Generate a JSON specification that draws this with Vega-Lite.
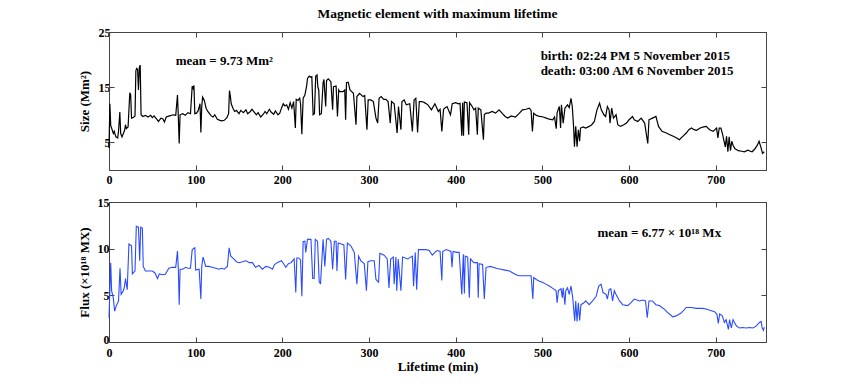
{
  "$schema": "https://vega.github.io/schema/vega-lite/v6.json",
  "background": "white",
  "padding": {"left": 77, "top": 6, "right": 5, "bottom": 5},
  "spacing": 9,
  "config": {
    "view": {"stroke": "#444", "strokeWidth": 1},
    "axis": {
      "labelFont": "Liberation Serif", "labelFontWeight": "bold", "labelFontSize": 12, "labelColor": "black",
      "titleFont": "Liberation Serif", "titleFontWeight": "bold", "titleFontSize": 13, "titleColor": "black",
      "grid": false, "tickSize": -5, "tickColor": "#444", "domainColor": "#444"
    },
    "axisX": {"labelPadding": 9},
    "axisY": {"labelPadding": 4},
    "text": {"font": "Liberation Serif", "fontWeight": "bold", "fontSize": 13, "color": "black"}
  },
  "datasets": {
    "size": [
      {"t":0,"v":4},{"t":1,"v":12},{"t":2,"v":8},{"t":3,"v":7.6},{"t":5,"v":6.6},{"t":6,"v":7},{"t":8,"v":6},{"t":10,"v":5.8},{"t":11,"v":7},{"t":12.5,"v":10.5},{"t":13.5,"v":6.6},{"t":15,"v":6},{"t":17,"v":6.8},{"t":18,"v":7.2},{"t":19,"v":8.2},{"t":20,"v":7.5},{"t":22,"v":7.8},{"t":24,"v":14},{"t":25,"v":13.6},{"t":26,"v":9.4},{"t":28,"v":9.5},{"t":30,"v":9.8},{"t":31,"v":18},{"t":32,"v":18.4},{"t":33,"v":18.2},{"t":34,"v":14.5},{"t":35,"v":18.6},{"t":36,"v":19},{"t":37,"v":10},{"t":39,"v":9.7},{"t":42,"v":9.9},{"t":45,"v":9.6},{"t":48,"v":9.9},{"t":50,"v":9.5},{"t":52,"v":9.8},{"t":55,"v":9.2},{"t":57,"v":8.8},{"t":60,"v":9.4},{"t":62,"v":9.3},{"t":64,"v":8.7},{"t":66,"v":9.6},{"t":70,"v":9.8},{"t":74,"v":10},{"t":77,"v":9.9},{"t":79,"v":13.6},{"t":80,"v":9.5},{"t":81,"v":4.8},{"t":82,"v":10},{"t":85,"v":10.2},{"t":88,"v":9.9},{"t":91,"v":10.4},{"t":94,"v":10.2},{"t":96,"v":15.2},{"t":97,"v":14.8},{"t":98,"v":15.3},{"t":99,"v":10.2},{"t":101,"v":10.3},{"t":103,"v":10.8},{"t":105,"v":12},{"t":106,"v":6.8},{"t":107,"v":11.5},{"t":108,"v":13.2},{"t":110,"v":12.6},{"t":112,"v":11.2},{"t":114,"v":10.6},{"t":116,"v":10.2},{"t":118,"v":9.8},{"t":120,"v":9.6},{"t":122,"v":10},{"t":125,"v":9.2},{"t":128,"v":9},{"t":130,"v":8.9},{"t":133,"v":9},{"t":136,"v":9.5},{"t":138,"v":10.2},{"t":139,"v":14.4},{"t":140,"v":13.4},{"t":141,"v":12},{"t":143,"v":11.2},{"t":145,"v":10.6},{"t":147,"v":10.8},{"t":150,"v":10.2},{"t":152,"v":10.8},{"t":155,"v":10.4},{"t":158,"v":10.9},{"t":160,"v":10.2},{"t":163,"v":10.6},{"t":165,"v":11},{"t":168,"v":10.4},{"t":170,"v":10},{"t":172,"v":10.4},{"t":175,"v":9.6},{"t":178,"v":10.1},{"t":180,"v":10.6},{"t":182,"v":10.2},{"t":185,"v":11},{"t":187,"v":10.5},{"t":190,"v":10.1},{"t":192,"v":10.7},{"t":195,"v":10},{"t":197,"v":10.3},{"t":199,"v":11.2},{"t":201,"v":12},{"t":203,"v":11.6},{"t":205,"v":11.8},{"t":207,"v":11},{"t":209,"v":12.2},{"t":211,"v":11.2},{"t":213,"v":12.4},{"t":215,"v":7.6},{"t":216,"v":12.8},{"t":218,"v":12.6},{"t":220,"v":13},{"t":221,"v":12},{"t":222.5,"v":6.5},{"t":224,"v":13},{"t":226,"v":13.6},{"t":228,"v":15.2},{"t":229,"v":16.6},{"t":231,"v":17},{"t":233,"v":16.8},{"t":234,"v":16.9},{"t":235.5,"v":10},{"t":237,"v":10.2},{"t":238.5,"v":17},{"t":240,"v":17.2},{"t":241,"v":15},{"t":242,"v":14.5},{"t":243,"v":10},{"t":245,"v":10.2},{"t":247,"v":15.8},{"t":248,"v":16.4},{"t":250,"v":11.5},{"t":251,"v":16.2},{"t":253,"v":16.5},{"t":256,"v":16},{"t":258,"v":10.9},{"t":259,"v":15.1},{"t":262,"v":15.2},{"t":263.6,"v":9.7},{"t":265,"v":14.5},{"t":266,"v":14.2},{"t":270,"v":14.2},{"t":272,"v":14.5},{"t":273,"v":9.1},{"t":274,"v":15.8},{"t":276,"v":15.9},{"t":278,"v":14.5},{"t":280,"v":14.2},{"t":282,"v":13.9},{"t":285,"v":8.2},{"t":286,"v":13.3},{"t":289,"v":13.9},{"t":291,"v":13.6},{"t":293,"v":13.3},{"t":295,"v":13.5},{"t":297.6,"v":7.3},{"t":299,"v":12.7},{"t":302,"v":12.7},{"t":305,"v":12.4},{"t":308,"v":9.4},{"t":310,"v":8.5},{"t":311.6,"v":13},{"t":314,"v":13.3},{"t":317,"v":12.8},{"t":319.5,"v":12.8},{"t":322,"v":12.4},{"t":324.5,"v":8.5},{"t":326,"v":12.4},{"t":329,"v":12},{"t":332.4,"v":6.7},{"t":334,"v":11.5},{"t":336.8,"v":7.3},{"t":338,"v":12.4},{"t":340.6,"v":12.7},{"t":343,"v":11.8},{"t":347,"v":12},{"t":350,"v":7},{"t":352,"v":12.7},{"t":354,"v":13},{"t":356,"v":6.8},{"t":358,"v":12.4},{"t":361,"v":12.4},{"t":364,"v":12.2},{"t":368,"v":11.8},{"t":372,"v":10.9},{"t":376,"v":12},{"t":380,"v":10.6},{"t":382,"v":11},{"t":384,"v":7},{"t":386,"v":11},{"t":388,"v":11.3},{"t":390,"v":11.5},{"t":394,"v":10},{"t":396,"v":12},{"t":400,"v":12.2},{"t":403,"v":12},{"t":405,"v":12.1},{"t":407,"v":6.2},{"t":408,"v":12.2},{"t":409,"v":6.2},{"t":410,"v":12.3},{"t":413,"v":12.2},{"t":415,"v":6.4},{"t":416,"v":12.2},{"t":419,"v":11.5},{"t":421,"v":10.9},{"t":423,"v":11.2},{"t":425,"v":6.4},{"t":426,"v":11.2},{"t":429,"v":10.9},{"t":432,"v":5.5},{"t":433,"v":10},{"t":435,"v":10.3},{"t":438,"v":10.3},{"t":442,"v":10.6},{"t":446,"v":10.3},{"t":450,"v":10.9},{"t":454,"v":10.2},{"t":457,"v":9.7},{"t":460,"v":9.4},{"t":464,"v":9.8},{"t":469,"v":9.6},{"t":473,"v":10.2},{"t":477,"v":10.9},{"t":481,"v":11},{"t":485,"v":11.2},{"t":487,"v":10.8},{"t":488.5,"v":7},{"t":490,"v":10.3},{"t":493,"v":9.9},{"t":497,"v":9.7},{"t":501,"v":9.6},{"t":504.5,"v":9.4},{"t":508,"v":9.2},{"t":512,"v":9.1},{"t":514,"v":9.6},{"t":516,"v":7.5},{"t":517,"v":10.4},{"t":519.6,"v":11.5},{"t":521,"v":7.6},{"t":522,"v":11.8},{"t":524,"v":8.5},{"t":526,"v":11.2},{"t":529,"v":11.8},{"t":531,"v":11.3},{"t":533,"v":13},{"t":534.5,"v":11.5},{"t":536,"v":7.9},{"t":537,"v":4.2},{"t":538.5,"v":7.9},{"t":540,"v":4.2},{"t":541.5,"v":7.3},{"t":543,"v":5.2},{"t":544,"v":7.6},{"t":547,"v":7.8},{"t":550,"v":7.6},{"t":554,"v":7.9},{"t":557,"v":8.2},{"t":560,"v":8.8},{"t":563,"v":10.9},{"t":566,"v":12.1},{"t":568,"v":10.9},{"t":571,"v":10},{"t":573,"v":9.7},{"t":575,"v":11.5},{"t":577,"v":10.9},{"t":578,"v":8.5},{"t":580,"v":11.2},{"t":582,"v":9.4},{"t":585,"v":10},{"t":587,"v":8.2},{"t":590,"v":7.9},{"t":594,"v":8.2},{"t":597,"v":8.5},{"t":600,"v":9.1},{"t":604,"v":9.7},{"t":606,"v":9.1},{"t":610,"v":8.8},{"t":614,"v":9.4},{"t":618,"v":8.5},{"t":621.6,"v":4.8},{"t":623,"v":9.1},{"t":627,"v":9.4},{"t":631,"v":9.7},{"t":634,"v":7.9},{"t":638,"v":7},{"t":643,"v":6.7},{"t":647,"v":6.4},{"t":651,"v":6.1},{"t":655,"v":5.8},{"t":658,"v":5.5},{"t":662,"v":6.1},{"t":666,"v":6.7},{"t":669,"v":7.3},{"t":672,"v":7.6},{"t":675,"v":7.3},{"t":678,"v":7.2},{"t":682,"v":7.6},{"t":686,"v":7.8},{"t":689,"v":7.9},{"t":693,"v":7.3},{"t":697,"v":7},{"t":701,"v":7.6},{"t":702.5,"v":5.8},{"t":704,"v":7.6},{"t":706,"v":7.6},{"t":708,"v":6.4},{"t":711,"v":4.2},{"t":712.5,"v":6.1},{"t":714,"v":3.3},{"t":715.5,"v":6},{"t":717,"v":3.5},{"t":718.5,"v":5.2},{"t":720,"v":4.5},{"t":722,"v":3.9},{"t":726,"v":3.5},{"t":730,"v":3.4},{"t":733,"v":3.3},{"t":737,"v":3.6},{"t":740,"v":3.4},{"t":742,"v":3.3},{"t":745,"v":3.8},{"t":748,"v":4.5},{"t":750,"v":5.2},{"t":752,"v":4.2},{"t":754,"v":3},{"t":756,"v":3.3}
    ],
    "flux": [
      {"t":0,"v":2.6},{"t":2,"v":8.5},{"t":3,"v":5.5},{"t":5,"v":4.7},{"t":6.5,"v":3.3},{"t":8.5,"v":3.9},{"t":11,"v":4.4},{"t":12.7,"v":7.9},{"t":14,"v":5.1},{"t":16.5,"v":5.5},{"t":18,"v":6},{"t":19,"v":6.8},{"t":21,"v":5.6},{"t":23,"v":10.5},{"t":26,"v":10.3},{"t":27,"v":7.3},{"t":30,"v":7.6},{"t":31.5,"v":12.4},{"t":34,"v":12.3},{"t":35.4,"v":8.7},{"t":36.6,"v":12.3},{"t":38.5,"v":12.2},{"t":39.5,"v":8.1},{"t":42,"v":7.6},{"t":46,"v":7.6},{"t":50,"v":7.6},{"t":53,"v":7.4},{"t":56,"v":6.8},{"t":58,"v":7.3},{"t":62,"v":7.2},{"t":65,"v":7.25},{"t":69,"v":7.9},{"t":73,"v":8},{"t":77,"v":8},{"t":79,"v":9.75},{"t":80,"v":7.8},{"t":81,"v":4},{"t":82,"v":7.8},{"t":85,"v":7.8},{"t":88.5,"v":8},{"t":91,"v":7.9},{"t":94,"v":7.9},{"t":96,"v":9.9},{"t":99,"v":10.1},{"t":100,"v":7.7},{"t":104,"v":7.8},{"t":106,"v":4.6},{"t":107,"v":8.1},{"t":108.5,"v":9.1},{"t":111.6,"v":8.1},{"t":115,"v":8.1},{"t":119,"v":8},{"t":123,"v":7.9},{"t":127,"v":7.8},{"t":130,"v":7.9},{"t":133,"v":7.8},{"t":136.6,"v":8.1},{"t":138.6,"v":10.1},{"t":140.5,"v":9.2},{"t":144,"v":8.9},{"t":147,"v":8.6},{"t":150,"v":8.5},{"t":154,"v":8.6},{"t":158,"v":8.7},{"t":162,"v":8.5},{"t":165.5,"v":8.5},{"t":169,"v":8},{"t":173,"v":8.2},{"t":177,"v":7.8},{"t":181,"v":8.1},{"t":185,"v":8},{"t":188.6,"v":7.8},{"t":191,"v":8.3},{"t":194,"v":8.5},{"t":199,"v":8.7},{"t":202,"v":8.3},{"t":204,"v":8},{"t":207,"v":8.4},{"t":210,"v":8.5},{"t":213.6,"v":8.9},{"t":215.5,"v":5.3},{"t":216.7,"v":9},{"t":219,"v":9},{"t":221,"v":8.8},{"t":222.5,"v":4.9},{"t":224,"v":10.75},{"t":226,"v":10.8},{"t":227,"v":9.6},{"t":229,"v":11},{"t":233,"v":11},{"t":235,"v":6.8},{"t":236.7,"v":6.8},{"t":238,"v":11},{"t":240.6,"v":10.8},{"t":242.5,"v":6.5},{"t":244,"v":6.2},{"t":247,"v":11},{"t":249,"v":8.1},{"t":251,"v":11},{"t":253,"v":11.1},{"t":256,"v":10.8},{"t":258,"v":7.8},{"t":260,"v":10.8},{"t":262,"v":10.8},{"t":263,"v":7.6},{"t":264.4,"v":10.6},{"t":268,"v":10.5},{"t":271,"v":10.4},{"t":273,"v":6.7},{"t":275,"v":10.6},{"t":279,"v":10.3},{"t":283,"v":9.6},{"t":286,"v":6.2},{"t":288,"v":9.2},{"t":290.6,"v":8.7},{"t":294.5,"v":8.4},{"t":297,"v":5.5},{"t":298.7,"v":8.6},{"t":302,"v":8.7},{"t":306,"v":8.7},{"t":308,"v":6.7},{"t":311,"v":6.4},{"t":312.5,"v":9.5},{"t":317.5,"v":9.3},{"t":321,"v":8.9},{"t":323,"v":5.8},{"t":325,"v":8.9},{"t":328,"v":9.1},{"t":329,"v":6.2},{"t":331,"v":9.1},{"t":332,"v":5.5},{"t":333.7,"v":8.9},{"t":336.8,"v":5.5},{"t":338.7,"v":9.1},{"t":344.5,"v":8.9},{"t":350,"v":9.2},{"t":351.4,"v":6},{"t":353.3,"v":9.6},{"t":355,"v":5.6},{"t":357,"v":9.9},{"t":362,"v":9.9},{"t":366,"v":9.9},{"t":369.5,"v":9.8},{"t":373,"v":9.3},{"t":377,"v":9.7},{"t":379,"v":9.8},{"t":382,"v":9.7},{"t":384,"v":6.6},{"t":385,"v":9.7},{"t":389,"v":9.9},{"t":392,"v":9.8},{"t":394.6,"v":9.7},{"t":395.7,"v":8},{"t":397,"v":9.7},{"t":401,"v":9.6},{"t":404,"v":9.6},{"t":407,"v":5.1},{"t":408.8,"v":9.4},{"t":410,"v":5.2},{"t":411,"v":9.2},{"t":413.8,"v":9.1},{"t":415.7,"v":4.75},{"t":417,"v":8.9},{"t":421,"v":8.5},{"t":425,"v":8.5},{"t":426,"v":4.75},{"t":427,"v":8.4},{"t":431,"v":8.3},{"t":433,"v":4.6},{"t":435,"v":8},{"t":440,"v":8.1},{"t":446.5,"v":7.9},{"t":452,"v":7.8},{"t":457,"v":7.7},{"t":462,"v":7.6},{"t":466,"v":7.4},{"t":469.6,"v":7.2},{"t":473,"v":7.1},{"t":480,"v":7.1},{"t":487,"v":7.1},{"t":489,"v":4.6},{"t":490,"v":6.9},{"t":493,"v":6.7},{"t":496.5,"v":6.5},{"t":500,"v":6.4},{"t":504,"v":6.2},{"t":508,"v":6},{"t":512,"v":5.75},{"t":515.8,"v":5.5},{"t":517,"v":4.2},{"t":518.5,"v":5.5},{"t":521.5,"v":5.7},{"t":523,"v":4.75},{"t":524,"v":5.8},{"t":526,"v":4},{"t":527,"v":5.5},{"t":529,"v":5.8},{"t":531,"v":5.1},{"t":533,"v":6},{"t":535,"v":4.75},{"t":537.3,"v":2.25},{"t":538.5,"v":4.4},{"t":540,"v":2.2},{"t":541.5,"v":4.2},{"t":543,"v":2.3},{"t":544.5,"v":4},{"t":548,"v":4.2},{"t":550,"v":4.4},{"t":554,"v":4},{"t":558,"v":4.4},{"t":562,"v":4.9},{"t":565,"v":6},{"t":567.7,"v":6.2},{"t":570,"v":5.3},{"t":573.5,"v":5.1},{"t":575,"v":4.6},{"t":577,"v":5.6},{"t":579,"v":5.7},{"t":581,"v":4.4},{"t":583,"v":5.5},{"t":585,"v":5.1},{"t":589,"v":4.4},{"t":592.7,"v":4},{"t":598.5,"v":3.9},{"t":602,"v":4.2},{"t":606,"v":4.6},{"t":609,"v":4.5},{"t":612,"v":4.4},{"t":616,"v":4.5},{"t":619,"v":4.4},{"t":621,"v":2.6},{"t":623,"v":4.4},{"t":627,"v":4.4},{"t":631,"v":4},{"t":635,"v":3.9},{"t":638,"v":3.7},{"t":641,"v":3.5},{"t":644,"v":3.2},{"t":646.6,"v":3},{"t":650.5,"v":2.7},{"t":654.4,"v":2.8},{"t":660,"v":3.1},{"t":666,"v":3.7},{"t":672,"v":3.7},{"t":677.5,"v":3.6},{"t":685,"v":3.6},{"t":690,"v":3.5},{"t":693,"v":3.4},{"t":698.6,"v":3.25},{"t":701.3,"v":3},{"t":703,"v":2},{"t":704.5,"v":3},{"t":707.6,"v":2.8},{"t":710,"v":2.1},{"t":712,"v":2.4},{"t":714.6,"v":1.35},{"t":716,"v":2.4},{"t":718,"v":1.5},{"t":720,"v":2.4},{"t":721.6,"v":2.1},{"t":724,"v":1.7},{"t":727.4,"v":1.5},{"t":731,"v":1.55},{"t":735,"v":1.5},{"t":739,"v":1.55},{"t":742.8,"v":1.5},{"t":746.6,"v":1.7},{"t":750.5,"v":2.1},{"t":752.4,"v":2.2},{"t":753.6,"v":1.5},{"t":755,"v":1.25},{"t":756,"v":1.6}
    ]
  },
  "vconcat": [
    {
      "width": 657,
      "height": 138,
      "title": {"text": "Magnetic element with maximum lifetime", "font": "Liberation Serif", "fontSize": 13.5, "fontWeight": "bold", "anchor": "middle", "frame": "group", "offset": 6, "color": "black"},
      "resolve": {"axis": {"x": "independent", "y": "independent"}},
      "layer": [
        {
          "data": {"name": "size"},
          "mark": {"type": "line", "color": "black", "strokeWidth": 1.2},
          "encoding": {
            "x": {"field": "t", "type": "quantitative", "scale": {"domain": [0, 758], "nice": false, "zero": false}, "axis": {"values": [0,100,200,300,400,500,600,700], "title": null, "orient": "bottom", "labelFlush": false}},
            "y": {"field": "v", "type": "quantitative", "scale": {"domain": [0, 25], "nice": false}, "axis": {"values": [5,15,25], "title": "Size (Mm²)", "orient": "left", "titlePadding": 7}}
          }
        },
        {
          "data": {"name": "size"},
          "mark": {"type": "line", "opacity": 0},
          "encoding": {
            "x": {"field": "t", "type": "quantitative", "scale": {"domain": [0, 758], "nice": false, "zero": false}, "axis": {"values": [100,200,300,400,500,600,700], "title": null, "orient": "top", "labels": false}},
            "y": {"field": "v", "type": "quantitative", "scale": {"domain": [0, 25], "nice": false}, "axis": {"values": [5,15,25], "title": null, "orient": "right", "labels": false}}
          }
        },
        {
          "data": {"values": [
            {"t": 77, "v": 19.7, "label": "mean = 9.73  Mm²"},
            {"t": 498, "v": 20.6, "label": "birth: 02:24 PM 5 November 2015"},
            {"t": 498, "v": 18.0, "label": "death: 03:00 AM 6 November 2015"}
          ]},
          "mark": {"type": "text", "align": "left", "baseline": "middle"},
          "encoding": {
            "x": {"field": "t", "type": "quantitative", "axis": null},
            "y": {"field": "v", "type": "quantitative", "axis": null},
            "text": {"field": "label"}
          }
        }
      ]
    },
    {
      "width": 657,
      "height": 140,
      "resolve": {"axis": {"x": "independent", "y": "independent"}},
      "layer": [
        {
          "data": {"name": "flux"},
          "mark": {"type": "line", "color": "#2a4bff", "strokeWidth": 1.1},
          "encoding": {
            "x": {"field": "t", "type": "quantitative", "scale": {"domain": [0, 758], "nice": false, "zero": false}, "axis": {"values": [0,100,200,300,400,500,600,700], "title": "Lifetime (min)", "orient": "bottom", "labelFlush": false, "titlePadding": 2, "labelPadding": 10}},
            "y": {"field": "v", "type": "quantitative", "scale": {"domain": [0, 15], "nice": false}, "axis": {"values": [0,5,10,15], "title": "Flux (×10¹⁸ MX)", "orient": "left", "titlePadding": 6, "labelPadding": 5, "labelOffset": {"condition": {"test": "datum.value === 0", "value": -3}, "value": 0}}}
          }
        },
        {
          "data": {"name": "flux"},
          "mark": {"type": "line", "opacity": 0},
          "encoding": {
            "x": {"field": "t", "type": "quantitative", "scale": {"domain": [0, 758], "nice": false, "zero": false}, "axis": {"values": [100,200,300,400,500,600,700], "title": null, "orient": "top", "labels": false}},
            "y": {"field": "v", "type": "quantitative", "scale": {"domain": [0, 15], "nice": false}, "axis": {"values": [5,10], "title": null, "orient": "right", "labels": false}}
          }
        },
        {
          "data": {"values": [
            {"t": 563.5, "v": 11.7, "label": "mean = 6.77 × 10¹⁸ Mx"}
          ]},
          "mark": {"type": "text", "align": "left", "baseline": "middle"},
          "encoding": {
            "x": {"field": "t", "type": "quantitative", "axis": null},
            "y": {"field": "v", "type": "quantitative", "axis": null},
            "text": {"field": "label"}
          }
        }
      ]
    }
  ]
}
